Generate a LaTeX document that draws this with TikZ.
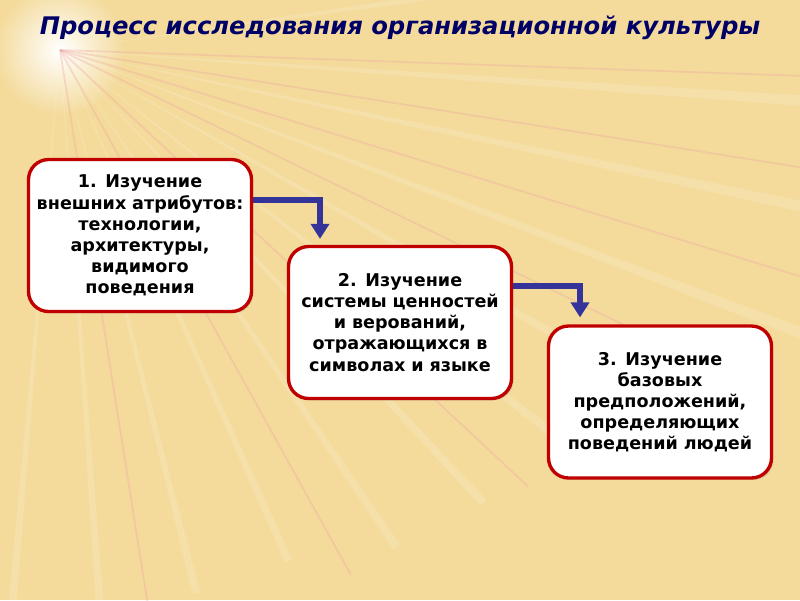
\documentclass[tikz,border=0pt]{standalone}
\usepackage{fontspec}
\setmainfont{DejaVu Sans}
\usetikzlibrary{positioning,shadows,arrows.meta}
\definecolor{bgsand}{RGB}{244,219,156}
\definecolor{rayrose}{RGB}{238,168,160}
\definecolor{boxred}{RGB}{192,0,0}
\definecolor{flowblue}{RGB}{51,51,153}
\definecolor{titlenavy}{RGB}{0,0,102}
\tikzset{
    stagebox/.style={draw=boxred, fill=white, line width=1.9pt,
        rounded corners=0.4cm, minimum width=4.46cm, minimum height=3.04cm,
        text width=4.3cm, align=center, inner sep=0pt,
        font=\bfseries\fontsize{10}{12}\selectfont,
        drop shadow={opacity=0.2, shadow xshift=0.04cm, shadow yshift=-0.04cm}}
}
\tikzset{
    flow/.style={draw=flowblue, line width=3pt, line join=miter,
        -{Triangle[width=0.36cm, length=0.3cm]}}
}
\tikzset{
    ray/.style={fill=white, opacity=0.14},
    streak/.style={draw=rayrose, line width=1pt, opacity=0.35}
}

\begin{document}
\begin{tikzpicture}[x=0.02cm, y=-0.02cm]
  % background
  \fill[bgsand] (0,0) rectangle (800,600);
  \useasboundingbox (0,0) rectangle (800,600);
  \coordinate (glow) at (60,50);
  \shade[inner color=white, outer color=bgsand] (glow) circle (1.3cm);
  \foreach \a/\r in {-8/700, 4/800, 12/850, 21/800, 30/700, 38/650, 47/620,
                     56/600, 66/560, 76/560, 86/560, 95/560, 160/120, 200/90, 250/80}
    \fill[ray] (glow) -- ++(\a-0.5:\r) -- ++(\a+90:{\r*0.014}) -- cycle;
  \foreach \a/\r in {2/780, 9/820, 17/800, 26/760, 43/640, 61/600, 81/560}
    \draw[streak] (glow) -- ++(\a:\r);

  % title
  \node (title) at (400,28) [text=titlenavy,
    font=\bfseries\itshape\fontsize{13.8}{16}\selectfont]
    {Процесс исследования организационной культуры};

  % stages
  \node (box1) [stagebox] at (140,235.5)
    {1. Изучение\\ внешних атрибутов:\\ технологии,\\ архитектуры,\\ видимого\\ поведения};
  \node (box2) [stagebox] at (400,322.5)
    {2. Изучение\\ системы ценностей\\ и верований,\\ отражающихся в\\ символах и языке};
  \node (box3) [stagebox] at (660,402)
    {3. Изучение\\ базовых\\ предположений,\\ определяющих\\ поведений людей};

  \draw[flow] ([yshift=0.71cm]box1.east) -| ([xshift=-1.6cm, yshift=0.12cm]box2.north);
  \draw[flow] ([yshift=0.73cm]box2.east) -| ([xshift=-1.6cm, yshift=0.14cm]box3.north);
\end{tikzpicture}
\end{document}
